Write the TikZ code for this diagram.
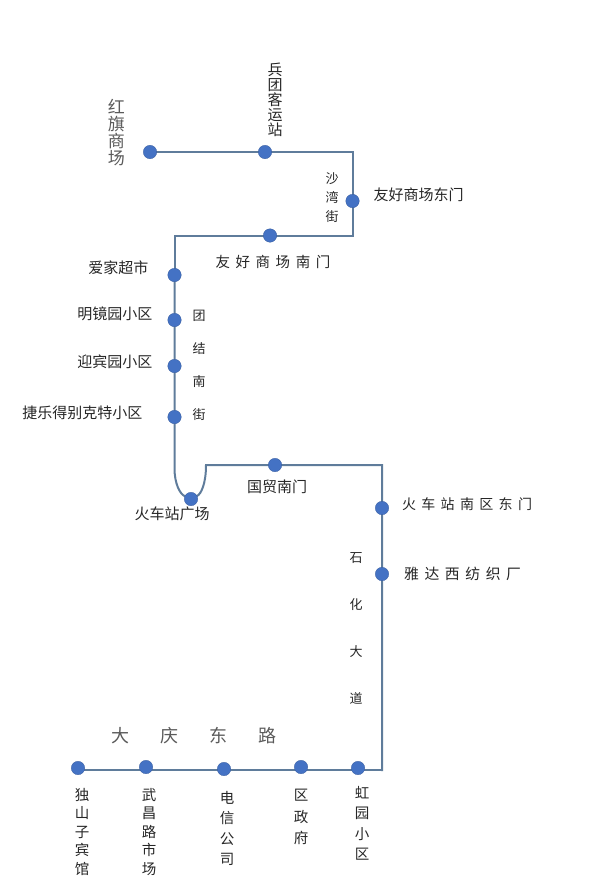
\documentclass[tikz,border=0pt]{standalone}
\usepackage{fontspec}
\usepackage{tikz}
\usetikzlibrary{positioning,backgrounds}
\newfontfamily\cjk{Noto Sans CJK SC}
\newfontfamily\cjkwide[LetterSpace=38]{Noto Sans CJK SC}
\definecolor{routeLine}{HTML}{5F7C9B}
\definecolor{stopBlue}{HTML}{4472C4}
\definecolor{softgray}{HTML}{5A5A5A}
\tikzset{
  stopdot/.style={circle,fill=stopBlue,draw=stopBlue!80!black,line width=.3pt,minimum size=13.5pt,inner sep=0pt},
  route/.style={draw=routeLine,line width=2pt,line cap=rect},
  stoplabel/.style={inner sep=0pt,text=black!85,font=\cjk\fontsize{15}{15}\selectfont},
  widelabel/.style={inner sep=0pt,text=black!85,font=\cjkwide\fontsize{#1}{#1}\selectfont},
  widelabel/.default=14.5,
  vertlabel/.style={inner sep=0pt,align=center,text=black!85,font=\cjk\fontsize{#1}{#1}\selectfont},
  vertlabel/.default=14.5
}
\begin{document}
\begin{tikzpicture}[x=1pt,y=-1pt]
    \useasboundingbox (0,0) rectangle (595,883);
    % bends of the line
    \coordinate (turnA) at (352.5,152);
    \coordinate (turnB) at (352.5,235.5);
    \coordinate (turnC) at (174.5,235.5);
    \coordinate (turnD) at (174.5,468);
    \coordinate (turnE) at (206,465);
    \coordinate (turnF) at (382,465);
    \coordinate (turnG) at (382,770);
    % stops
    \node[stopdot] (hongqi) at (150,152) {};
    \node[stopdot] (bingtuan) at (265,152) {};
    \node[stopdot] (youhaoE) at (352.5,201) {};
    \node[stopdot] (youhaoS) at (270,235.5) {};
    \node[stopdot] (aijia) at (174.5,275) {};
    \node[stopdot] (mingjing) at (174.5,320) {};
    \node[stopdot] (yingbin) at (174.5,366) {};
    \node[stopdot] (jiele) at (174.5,417) {};
    \node[stopdot] (station) at (191,499) {};
    \node[stopdot] (guomao) at (275,465) {};
    \node[stopdot] (stationE) at (382,508) {};
    \node[stopdot] (yada) at (382,574) {};
    \node[stopdot] (hongyuan) at (358,768) {};
    \node[stopdot] (quzf) at (301,767) {};
    \node[stopdot] (dianxin) at (224,769) {};
    \node[stopdot] (wuchang) at (146,767) {};
    \node[stopdot] (dushan) at (78,768) {};
    % route
    \begin{pgfonlayer}{background}
    \draw[route] (hongqi)--(bingtuan)--(turnA)--(youhaoE)--(turnB)--(youhaoS)--(turnC)--(aijia);
    \draw[route] (aijia)--(mingjing)--(yingbin)--(jiele)--(turnD) .. controls (174.5,484) and (180,494) .. (station);
    \draw[route] (station) .. controls (201,494) and (206,484) .. (turnE)--(guomao)--(turnF)--(stationE)--(yada)--(turnG);
    \draw[route] (turnG)--(hongyuan |- turnG)--(quzf |- turnG)--(dianxin |- turnG)--(wuchang |- turnG)--(dushan |- turnG);
    \end{pgfonlayer}
    % stop names
    \node[vertlabel=17,text=softgray,left=18pt of hongqi,yshift=19pt] (hongqiName) {红\\旗\\商\\场};
    \node[vertlabel=15,above=8pt of bingtuan,xshift=10pt] (bingtuanName) {兵\\团\\客\\运\\站};
    \node[stoplabel,right=14pt of youhaoE,yshift=6pt] (youhaoEName) {友好商场东门};
    \node[widelabel,below=13pt of youhaoS,xshift=3pt] (youhaoSName) {友好商场南门};
    \node[stoplabel,left=19pt of aijia,yshift=7pt] (aijiaName) {爱家超市};
    \node[stoplabel,left=15pt of mingjing,yshift=6pt] (mingjingName) {明镜园小区};
    \node[stoplabel,left=15pt of yingbin,yshift=4pt] (yingbinName) {迎宾园小区};
    \node[stoplabel,left=25pt of jiele,yshift=4pt] (jieleName) {捷乐得别克特小区};
    \node[stoplabel,below=1pt of station,xshift=-19pt] (stationName) {火车站广场};
    \node[stoplabel,below=8pt of guomao,xshift=2pt] (guomaoName) {国贸南门};
    \node[widelabel=14,right=13pt of stationE,yshift=4pt] (stationEName) {火车站南区东门};
    \node[widelabel=14.8,right=15pt of yada] (yadaName) {雅达西纺织厂};
    \node[vertlabel,below=13pt of dushan,xshift=4pt] (dushanName) {独\\[4pt]山\\[4pt]子\\[4pt]宾\\[4pt]馆};
    \node[vertlabel,below=14pt of wuchang,xshift=3pt] (wuchangName) {武\\[4pt]昌\\[4pt]路\\[4pt]市\\[4pt]场};
    \node[vertlabel,below=15pt of dianxin,xshift=3pt] (dianxinName) {电\\[6pt]信\\[6pt]公\\[6pt]司};
    \node[vertlabel,below=15pt of quzf] (quzfName) {区\\[7pt]政\\[7pt]府};
    \node[vertlabel,below=11pt of hongyuan,xshift=4pt] (hongyuanName) {虹\\[6pt]园\\[6pt]小\\[6pt]区};
    % street names
    \node[vertlabel=13] (shawan) at (332,198) {沙\\[6pt]湾\\[6pt]街};
    \node[vertlabel=13] (tuanjie) at (199,365) {团\\[20pt]结\\[20pt]南\\[20pt]街};
    \node[vertlabel=13] (shihua) at (356,628) {石\\[34pt]化\\[34pt]大\\[34pt]道};
    \node[inner sep=0pt,text=softgray,font=\cjk\fontsize{18}{18}\selectfont] (daqing) at (194,736)
      {大\hspace{31pt}庆\hspace{31pt}东\hspace{31pt}路};
\end{tikzpicture}
\end{document}
